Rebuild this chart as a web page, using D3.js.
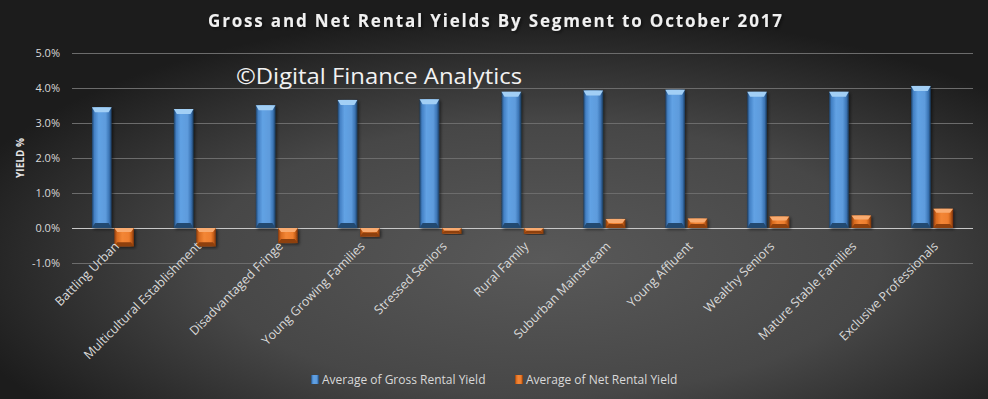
<!DOCTYPE html>
<html><head><meta charset="utf-8">
<script src="https://cdn.jsdelivr.net/npm/d3@7"></script>
<style>body{margin:0;background:#333}svg{display:block}</style>
</head><body>
<svg id="c" width="988" height="399"></svg>
<script>
const categories = ["Battling Urban","Multicultural Establishment","Disadvantaged Fringe","Young Growing Families","Stressed Seniors","Rural Family","Suburban Mainstream","Young Affluent","Wealthy Seniors","Mature Stable Families","Exclusive Professionals"];
const grossYield = [3.45, 3.40, 3.51, 3.66, 3.68, 3.89, 3.93, 3.95, 3.89, 3.89, 4.06];
const netYield = [-0.52, -0.52, -0.43, -0.24, -0.16, -0.16, 0.26, 0.27, 0.33, 0.36, 0.55];
const seriesNames = ["Average of Gross Rental Yield","Average of Net Rental Yield"];
const yTicks = [-1, 0, 1, 2, 3, 4, 5];
const titleText = "Gross and Net Rental Yields By Segment to October 2017";
const watermark = "©Digital Finance Analytics";

const W = 988, H = 399;
const svg = d3.select("#c");
const defs = svg.append("defs");

const bg = defs.append("radialGradient").attr("id","bg").attr("cx","55%").attr("cy","65%").attr("r","62%");
bg.append("stop").attr("offset","0%").attr("stop-color","#595959");
bg.append("stop").attr("offset","55%").attr("stop-color","#474747");
bg.append("stop").attr("offset","100%").attr("stop-color","#1c1c1c");
svg.append("rect").attr("width",W).attr("height",H).attr("fill","url(#bg)");

function hgrad(id, stops){
  const g = defs.append("linearGradient").attr("id",id).attr("x1","0").attr("x2","1").attr("y1","0").attr("y2","0");
  stops.forEach(([o,c])=>g.append("stop").attr("offset",o).attr("stop-color",c));
}
hgrad("gBlue",[["0%","#1d3f63"],["12%","#4380c4"],["35%","#62a2e4"],["70%","#5d9bdc"],["88%","#3b74b4"],["100%","#1b3a5c"]]);
hgrad("gOrange",[["0%","#8a3c0c"],["14%","#d86a1e"],["40%","#f38636"],["75%","#ee7e2e"],["88%","#c55e18"],["100%","#7a340a"]]);

const sh = defs.append("filter").attr("id","sh").attr("x","-30%").attr("y","-10%").attr("width","160%").attr("height","130%");
sh.append("feDropShadow").attr("dx",1.5).attr("dy",1.5).attr("stdDeviation",1.5).attr("flood-color","#000").attr("flood-opacity",0.55);

const m = {l:72, r:973, t:53, b:263};
const x = d3.scaleBand().domain(categories).range([m.l, m.r]).paddingInner(0).paddingOuter(0);
const y = d3.scaleLinear().domain([-1, 5]).range([m.b, m.t]);
const x1 = d3.scaleBand().domain(seriesNames).range([-21, 21]).paddingInner(0.12);

// gridlines
svg.append("g").selectAll("line").data(yTicks).join("line")
  .attr("x1",m.l).attr("x2",m.r)
  .attr("y1",d=>y(d)+0.5).attr("y2",d=>y(d)+0.5)
  .attr("stroke",d=>d===0?"#c8c8c8":"#6c6c6c").attr("stroke-width",1);

// y axis labels
const yAxis = d3.axisLeft(y).tickValues(yTicks).tickFormat(d=>d.toFixed(1)+"%").tickSize(0).tickPadding(0);
const ya = svg.append("g").attr("transform",`translate(${m.l-12},0)`).call(yAxis);
ya.select(".domain").remove();
ya.selectAll("text").attr("fill","#d9d9d9").style("font-family","'Open Sans',sans-serif").style("font-size","11px").attr("dy","0.35em");

svg.append("text").text("YIELD %")
  .attr("transform",`translate(24,${(m.t+m.b)/2}) rotate(-90)`)
  .attr("text-anchor","middle").attr("fill","#e6e6e6")
  .style("font-family","'Open Sans',sans-serif").style("font-size","10px").style("font-weight","bold");

// watermark
svg.append("text").text(watermark).attr("x",236).attr("y",84)
  .attr("fill","#f2f2f2").style("font-family","'Open Sans',sans-serif").style("font-size","22px")
  .attr("textLength",286).attr("lengthAdjust","spacingAndGlyphs");

// title
svg.append("text").text(titleText).attr("x",495).attr("y",27).attr("text-anchor","middle")
  .attr("fill","#f0f0f0").style("font-family","'Open Sans',sans-serif").style("font-size","17px").style("font-weight","bold")
  .attr("textLength",574).attr("lengthAdjust","spacing")
  .attr("filter","url(#sh)");

// bars
function drawBar(g, cx, bw, v, fill, topFace, botFace, bev){
  const y0 = y(0), yv = y(v);
  const top = Math.min(y0,yv), bot = Math.max(y0,yv), h = Math.max(bot-top,1);
  const grp = g.append("g").attr("filter","url(#sh)");
  grp.append("rect").attr("x",cx).attr("y",top).attr("width",bw).attr("height",h).attr("fill",fill);
  const b = Math.min(bev, h/2);
  grp.append("path").attr("d",`M${cx},${top}L${cx+bw},${top}L${cx+bw-3},${top+b}L${cx+3},${top+b}Z`).attr("fill",topFace);
  grp.append("path").attr("d",`M${cx},${bot}L${cx+bw},${bot}L${cx+bw-3},${bot-b}L${cx+3},${bot-b}Z`).attr("fill",botFace);
}
const bars = svg.append("g");
categories.forEach((c,i)=>{
  const cx = x(c) + x.bandwidth()/2;
  drawBar(bars, cx + x1(seriesNames[0]), x1.bandwidth(), grossYield[i], "url(#gBlue)", "#a2cff5", "#24496f", 5);
  drawBar(bars, cx + x1(seriesNames[1]), x1.bandwidth(), netYield[i], "url(#gOrange)", "#f9ab70", "#8e3f0e", 4);
});

// x labels
svg.append("g").selectAll("text").data(categories).join("text")
  .text(d=>d)
  .attr("transform",d=>`translate(${x(d)+x.bandwidth()/2+7},${y(0)+19}) rotate(-45)`)
  .attr("text-anchor","end").attr("fill","#d9d9d9")
  .style("font-family","'Open Sans',sans-serif").style("font-size","12.5px");

// legend
const legend = svg.append("g");
const legX = [311, 515];
seriesNames.forEach((s,i)=>{
  legend.append("rect").attr("x",legX[i]).attr("y",375).attr("width",8).attr("height",9)
    .attr("fill",i===0?"url(#gBlue)":"url(#gOrange)");
  legend.append("text").text(s).attr("x",legX[i]+11).attr("y",384)
    .attr("fill","#d9d9d9").style("font-family","'Open Sans',sans-serif").style("font-size","12px");
});
</script>
</body></html>
